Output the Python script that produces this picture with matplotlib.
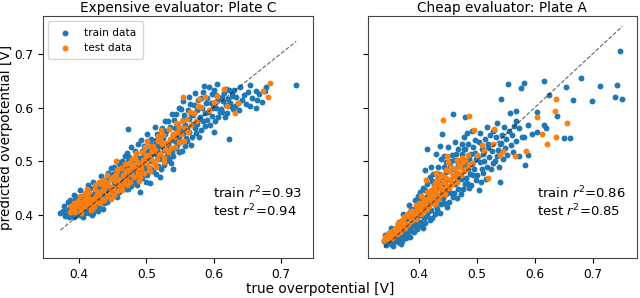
import numpy as np
import matplotlib
matplotlib.use("Agg")
import matplotlib.pyplot as plt

# true / predicted overpotentials (one row per 0.01 V strip)
plate_c_train_true = [
    0.372, 0.378, 0.376, 0.379,
    0.385, 0.381, 0.388, 0.383, 0.386, 0.389, 0.384, 0.387,
    0.393, 0.397, 0.390, 0.399, 0.395, 0.391, 0.398, 0.394, 0.396, 0.392,
    0.406, 0.401, 0.408, 0.403, 0.400, 0.409, 0.404, 0.407, 0.402, 0.405, 0.4085, 0.4015,
    0.419, 0.414, 0.412, 0.416, 0.418, 0.410, 0.415, 0.411, 0.417, 0.413, 0.4165, 0.4125,
    0.421, 0.428, 0.425, 0.420, 0.427, 0.423, 0.429, 0.422, 0.424, 0.426, 0.4275, 0.4205,
    0.435, 0.430, 0.437, 0.432, 0.439, 0.436, 0.431, 0.438, 0.433, 0.434, 0.4365, 0.4325,
    0.442, 0.446, 0.449, 0.444, 0.441, 0.447, 0.443, 0.440, 0.445, 0.448, 0.4435, 0.4475,
    0.457, 0.453, 0.451, 0.458, 0.454, 0.452, 0.456, 0.459, 0.450, 0.455, 0.4525, 0.4575,
    0.460, 0.469, 0.464, 0.465, 0.462, 0.468, 0.467, 0.463, 0.466, 0.461, 0.4645, 0.4685,
    0.473, 0.477, 0.470, 0.479, 0.475, 0.471, 0.478, 0.474, 0.476, 0.472, 0.4745, 0.4705, 0.472, 0.477,
    0.486, 0.481, 0.488, 0.483, 0.480, 0.489, 0.484, 0.487, 0.482, 0.485, 0.4835, 0.4875,
    0.499, 0.494, 0.492, 0.496, 0.498, 0.490, 0.495, 0.491, 0.497, 0.493, 0.4965, 0.4925, 0.491,
    0.501, 0.508, 0.505, 0.500, 0.507, 0.503, 0.509, 0.502, 0.504, 0.506, 0.5075, 0.5005, 0.505,
    0.515, 0.510, 0.517, 0.512, 0.519, 0.516, 0.511, 0.518, 0.513, 0.514, 0.5165, 0.5125,
    0.522, 0.526, 0.529, 0.524, 0.521, 0.527, 0.523, 0.520, 0.525, 0.528, 0.5235, 0.5275, 0.520,
    0.537, 0.533, 0.531, 0.538, 0.534, 0.532, 0.536, 0.539, 0.530, 0.535, 0.5325, 0.5375,
    0.540, 0.549, 0.544, 0.545, 0.542, 0.548, 0.547, 0.543, 0.546, 0.541, 0.5445, 0.5485, 0.540,
    0.553, 0.557, 0.550, 0.559, 0.555, 0.551, 0.558, 0.554, 0.556, 0.552, 0.5545,
    0.566, 0.561, 0.568, 0.563, 0.560, 0.569, 0.564, 0.567, 0.562, 0.565, 0.5635,
    0.579, 0.574, 0.572, 0.576, 0.578, 0.570, 0.575, 0.571, 0.577, 0.573,
    0.581, 0.588, 0.585, 0.580, 0.587, 0.583, 0.589, 0.582, 0.584, 0.586,
    0.595, 0.590, 0.597, 0.592, 0.599, 0.596, 0.591, 0.598, 0.594,
    0.602, 0.606, 0.609, 0.604, 0.601, 0.607, 0.603, 0.600, 0.605, 0.600,
    0.617, 0.613, 0.611, 0.618, 0.614, 0.612, 0.616, 0.619,
    0.620, 0.629, 0.624, 0.625, 0.622, 0.628, 0.627, 0.623, 0.623,
    0.630, 0.632, 0.634, 0.636, 0.638, 0.640, 0.642, 0.645, 0.648, 0.652, 0.655, 0.655,
    0.658, 0.663, 0.663, 0.665, 0.668, 0.672, 0.676, 0.678, 0.723,
]
plate_c_train_pred = [
    0.403, 0.417, 0.408, 0.399,
    0.397, 0.401, 0.405, 0.410, 0.414, 0.419, 0.424, 0.428,
    0.397, 0.401, 0.406, 0.410, 0.414, 0.419, 0.423, 0.428, 0.433, 0.438,
    0.397, 0.400, 0.404, 0.409, 0.413, 0.417, 0.421, 0.426, 0.430, 0.435, 0.440, 0.446,
    0.400, 0.404, 0.409, 0.414, 0.419, 0.424, 0.429, 0.433, 0.438, 0.444, 0.450, 0.456,
    0.403, 0.408, 0.413, 0.418, 0.423, 0.428, 0.433, 0.438, 0.443, 0.449, 0.455, 0.462,
    0.412, 0.417, 0.422, 0.427, 0.432, 0.438, 0.443, 0.448, 0.454, 0.459, 0.465, 0.472,
    0.425, 0.430, 0.435, 0.440, 0.446, 0.451, 0.456, 0.462, 0.467, 0.473, 0.479, 0.487,
    0.433, 0.439, 0.444, 0.450, 0.455, 0.461, 0.466, 0.472, 0.477, 0.483, 0.490, 0.498,
    0.443, 0.448, 0.454, 0.459, 0.465, 0.470, 0.476, 0.481, 0.487, 0.493, 0.500, 0.509,
    0.448, 0.454, 0.460, 0.466, 0.471, 0.477, 0.483, 0.489, 0.495, 0.501, 0.508, 0.516, 0.560, 0.527,
    0.455, 0.461, 0.467, 0.473, 0.479, 0.485, 0.491, 0.497, 0.503, 0.510, 0.519, 0.532,
    0.462, 0.468, 0.474, 0.480, 0.487, 0.493, 0.499, 0.506, 0.512, 0.519, 0.528, 0.540, 0.443,
    0.475, 0.481, 0.488, 0.494, 0.500, 0.507, 0.513, 0.520, 0.527, 0.534, 0.542, 0.551, 0.460,
    0.477, 0.484, 0.491, 0.498, 0.505, 0.512, 0.519, 0.526, 0.533, 0.540, 0.550, 0.563,
    0.486, 0.493, 0.500, 0.507, 0.514, 0.521, 0.528, 0.536, 0.543, 0.551, 0.562, 0.575, 0.470,
    0.497, 0.504, 0.511, 0.518, 0.525, 0.533, 0.540, 0.548, 0.556, 0.564, 0.574, 0.587,
    0.510, 0.517, 0.524, 0.531, 0.538, 0.546, 0.553, 0.561, 0.569, 0.577, 0.587, 0.599, 0.485,
    0.520, 0.528, 0.536, 0.544, 0.552, 0.560, 0.568, 0.577, 0.586, 0.597, 0.612,
    0.530, 0.538, 0.546, 0.554, 0.562, 0.570, 0.578, 0.587, 0.596, 0.607, 0.620,
    0.545, 0.553, 0.561, 0.569, 0.578, 0.586, 0.595, 0.604, 0.614, 0.627,
    0.558, 0.566, 0.574, 0.582, 0.590, 0.599, 0.608, 0.618, 0.628, 0.640,
    0.568, 0.576, 0.584, 0.592, 0.600, 0.608, 0.617, 0.626, 0.638,
    0.575, 0.583, 0.591, 0.599, 0.607, 0.615, 0.624, 0.633, 0.644, 0.555,
    0.583, 0.591, 0.598, 0.605, 0.612, 0.619, 0.627, 0.635,
    0.590, 0.597, 0.603, 0.609, 0.615, 0.621, 0.627, 0.633, 0.541,
    0.633, 0.602, 0.620, 0.609, 0.596, 0.639, 0.614, 0.624, 0.607, 0.628, 0.642, 0.602,
    0.617, 0.599, 0.631, 0.614, 0.625, 0.611, 0.630, 0.639, 0.642,
]
plate_c_test_true = [
    0.386, 0.389, 0.388,
    0.394, 0.391, 0.397, 0.393, 0.399,
    0.403, 0.407, 0.400, 0.405, 0.409, 0.401,
    0.416, 0.411, 0.418, 0.413, 0.410, 0.415,
    0.422, 0.427, 0.420, 0.425, 0.428, 0.423, 0.424,
    0.437, 0.432, 0.430, 0.435, 0.439, 0.433,
    0.441, 0.446, 0.449, 0.443, 0.440, 0.447,
    0.456, 0.451, 0.458, 0.453, 0.450, 0.455, 0.455,
    0.462, 0.467, 0.460, 0.465, 0.469, 0.463,
    0.475, 0.470, 0.477, 0.472, 0.479, 0.474,
    0.481, 0.488, 0.484, 0.480, 0.486, 0.483,
    0.497, 0.492, 0.490, 0.495, 0.499, 0.493,
    0.504, 0.500, 0.507, 0.502, 0.509, 0.505,
    0.511, 0.516, 0.519, 0.513, 0.510, 0.517,
    0.526, 0.521, 0.528, 0.523, 0.520, 0.525,
    0.532, 0.537, 0.530, 0.535, 0.539, 0.533,
    0.543, 0.548, 0.541, 0.546, 0.549, 0.544,
    0.556, 0.551, 0.558, 0.553, 0.555,
    0.562, 0.567, 0.560, 0.565,
    0.574, 0.571, 0.577, 0.578,
    0.582, 0.588, 0.593, 0.600, 0.605, 0.616, 0.620, 0.632, 0.637, 0.673, 0.681, 0.684,
    0.402, 0.408, 0.417, 0.412, 0.421, 0.429, 0.431, 0.436, 0.448, 0.442, 0.452, 0.457, 0.464,
    0.468, 0.471, 0.478, 0.489, 0.485, 0.491, 0.498, 0.506, 0.501, 0.514, 0.518, 0.527, 0.522,
]
plate_c_test_pred = [
    0.405, 0.411, 0.416,
    0.406, 0.412, 0.417, 0.422, 0.427,
    0.410, 0.415, 0.420, 0.425, 0.430, 0.436,
    0.416, 0.421, 0.426, 0.432, 0.437, 0.443,
    0.415, 0.424, 0.430, 0.436, 0.442, 0.448, 0.456,
    0.428, 0.434, 0.440, 0.446, 0.452, 0.458,
    0.436, 0.443, 0.449, 0.455, 0.461, 0.467,
    0.444, 0.451, 0.458, 0.464, 0.470, 0.477, 0.501,
    0.453, 0.460, 0.467, 0.474, 0.481, 0.488,
    0.462, 0.469, 0.476, 0.483, 0.490, 0.497,
    0.470, 0.477, 0.485, 0.492, 0.499, 0.507,
    0.479, 0.487, 0.494, 0.502, 0.509, 0.517,
    0.490, 0.497, 0.505, 0.512, 0.520, 0.528,
    0.497, 0.505, 0.513, 0.521, 0.529, 0.538,
    0.507, 0.515, 0.523, 0.532, 0.540, 0.549,
    0.517, 0.525, 0.534, 0.542, 0.551, 0.560,
    0.527, 0.536, 0.545, 0.554, 0.563, 0.572,
    0.538, 0.550, 0.562, 0.574, 0.619,
    0.555, 0.567, 0.579, 0.592,
    0.575, 0.590, 0.603, 0.616,
    0.601, 0.620, 0.596, 0.610, 0.622, 0.635, 0.602, 0.589, 0.608, 0.630, 0.620, 0.646,
    0.404, 0.441, 0.409, 0.449, 0.419, 0.461, 0.422, 0.465, 0.430, 0.474, 0.438, 0.484, 0.446,
    0.495, 0.455, 0.505, 0.463, 0.515, 0.471, 0.526, 0.482, 0.537, 0.489, 0.547, 0.498, 0.558,
]
plate_a_train_true = [
    0.343, 0.347, 0.340, 0.349, 0.345, 0.341, 0.348,
    0.356, 0.351, 0.358, 0.353, 0.350, 0.359, 0.354, 0.357, 0.352,
    0.369, 0.364, 0.362, 0.366, 0.368, 0.360, 0.365, 0.361, 0.367, 0.363, 0.3655,
    0.371, 0.378, 0.375, 0.370, 0.377, 0.373, 0.379, 0.372, 0.374, 0.376, 0.3725,
    0.385, 0.380, 0.387, 0.382, 0.389, 0.386, 0.381, 0.388, 0.383, 0.384, 0.3865, 0.3825,
    0.392, 0.396, 0.399, 0.394, 0.391, 0.397, 0.393, 0.390, 0.395, 0.398, 0.3935, 0.3975,
    0.407, 0.403, 0.401, 0.408, 0.404, 0.402, 0.406, 0.409, 0.400, 0.405, 0.4025, 0.4075,
    0.410, 0.419, 0.414, 0.415, 0.412, 0.418, 0.417, 0.413, 0.416, 0.411, 0.4145, 0.4185, 0.410, 0.413,
    0.423, 0.427, 0.420, 0.429, 0.425, 0.421, 0.428, 0.424, 0.426, 0.422, 0.4245, 0.4205,
    0.436, 0.431, 0.438, 0.433, 0.430, 0.439, 0.434, 0.437, 0.432, 0.435, 0.4335, 0.4375, 0.430, 0.436, 0.439,
    0.449, 0.444, 0.442, 0.446, 0.448, 0.440, 0.445, 0.441, 0.447, 0.443, 0.4465, 0.4425,
    0.451, 0.458, 0.455, 0.450, 0.457, 0.453, 0.459, 0.452, 0.454, 0.456, 0.4575, 0.4505, 0.459,
    0.465, 0.460, 0.467, 0.462, 0.469, 0.466, 0.461, 0.468, 0.463, 0.464, 0.4665, 0.4625,
    0.472, 0.476, 0.479, 0.474, 0.471, 0.477, 0.473, 0.470, 0.475, 0.478, 0.4735, 0.4775,
    0.487, 0.483, 0.481, 0.488, 0.484, 0.482, 0.486, 0.489, 0.480, 0.485, 0.4825, 0.480,
    0.490, 0.499, 0.494, 0.495, 0.492, 0.498, 0.497, 0.493, 0.496, 0.491,
    0.503, 0.507, 0.500, 0.509, 0.505, 0.501, 0.508, 0.504, 0.506,
    0.516, 0.511, 0.518, 0.513, 0.510, 0.519, 0.514, 0.517,
    0.524, 0.528, 0.521, 0.526, 0.520, 0.523, 0.527,
    0.538, 0.531, 0.534, 0.536, 0.539, 0.533, 0.530, 0.535,
    0.540, 0.541, 0.542, 0.543, 0.545, 0.546, 0.548, 0.550, 0.552, 0.554, 0.555, 0.557,
    0.558, 0.560, 0.562, 0.564, 0.567, 0.567, 0.568, 0.573, 0.573, 0.576, 0.577, 0.582,
    0.582, 0.583, 0.588, 0.588, 0.595, 0.604, 0.604, 0.615, 0.616, 0.620, 0.625, 0.639,
    0.650, 0.654, 0.660, 0.666, 0.679, 0.698, 0.713, 0.738, 0.742, 0.747, 0.751,
]
plate_a_train_pred = [
    0.344, 0.348, 0.351, 0.355, 0.358, 0.362, 0.366,
    0.343, 0.347, 0.351, 0.355, 0.359, 0.363, 0.367, 0.371, 0.375,
    0.346, 0.350, 0.354, 0.358, 0.362, 0.366, 0.370, 0.374, 0.378, 0.383, 0.388,
    0.352, 0.357, 0.361, 0.366, 0.371, 0.376, 0.380, 0.385, 0.390, 0.395, 0.402,
    0.360, 0.365, 0.370, 0.375, 0.380, 0.385, 0.390, 0.396, 0.401, 0.406, 0.412, 0.418,
    0.368, 0.374, 0.380, 0.386, 0.391, 0.397, 0.403, 0.409, 0.415, 0.421, 0.428, 0.436,
    0.375, 0.381, 0.388, 0.394, 0.400, 0.407, 0.413, 0.420, 0.427, 0.434, 0.442, 0.450,
    0.385, 0.391, 0.398, 0.405, 0.412, 0.419, 0.426, 0.433, 0.440, 0.447, 0.457, 0.470, 0.483, 0.522,
    0.395, 0.402, 0.409, 0.416, 0.424, 0.431, 0.439, 0.447, 0.455, 0.464, 0.476, 0.490,
    0.404, 0.412, 0.420, 0.428, 0.436, 0.444, 0.452, 0.460, 0.468, 0.477, 0.489, 0.505, 0.514, 0.529, 0.550,
    0.415, 0.423, 0.431, 0.439, 0.447, 0.455, 0.463, 0.471, 0.480, 0.489, 0.499, 0.510,
    0.425, 0.433, 0.441, 0.449, 0.457, 0.466, 0.474, 0.483, 0.492, 0.501, 0.512, 0.526, 0.587,
    0.432, 0.441, 0.449, 0.458, 0.467, 0.476, 0.485, 0.494, 0.503, 0.513, 0.523, 0.535,
    0.440, 0.449, 0.458, 0.467, 0.476, 0.485, 0.494, 0.503, 0.513, 0.523, 0.533, 0.545,
    0.450, 0.459, 0.468, 0.477, 0.486, 0.495, 0.504, 0.513, 0.522, 0.532, 0.552, 0.582,
    0.455, 0.465, 0.475, 0.485, 0.495, 0.505, 0.516, 0.527, 0.539, 0.556,
    0.447, 0.462, 0.474, 0.486, 0.498, 0.510, 0.522, 0.535, 0.552,
    0.467, 0.478, 0.490, 0.501, 0.513, 0.526, 0.541, 0.563,
    0.486, 0.497, 0.508, 0.519, 0.533, 0.548, 0.557,
    0.490, 0.500, 0.510, 0.521, 0.533, 0.546, 0.559, 0.571,
    0.461, 0.615, 0.534, 0.548, 0.505, 0.563, 0.525, 0.541, 0.512, 0.643, 0.557, 0.589,
    0.530, 0.548, 0.517, 0.566, 0.594, 0.574, 0.538, 0.561, 0.509, 0.636, 0.546, 0.646,
    0.545, 0.493, 0.568, 0.512, 0.550, 0.591, 0.555, 0.650, 0.568, 0.562, 0.624, 0.584,
    0.543, 0.638, 0.543, 0.614, 0.654, 0.612, 0.640, 0.619, 0.641, 0.706, 0.615,
]
plate_a_test_true = [
    0.340, 0.344, 0.342, 0.348, 0.346,
    0.353, 0.350, 0.357, 0.352, 0.355, 0.358,
    0.362, 0.367, 0.360, 0.365, 0.369, 0.363,
    0.376, 0.371, 0.378, 0.373, 0.370, 0.375,
    0.381, 0.386, 0.389, 0.383, 0.380, 0.387,
    0.395, 0.390, 0.397, 0.392, 0.399, 0.394,
    0.404, 0.408, 0.401, 0.406, 0.400, 0.409, 0.403,
    0.413, 0.418, 0.411, 0.416, 0.419, 0.414, 0.412,
    0.427, 0.422, 0.429, 0.424, 0.420, 0.426, 0.428,
    0.432, 0.436, 0.430, 0.438, 0.434, 0.431, 0.437, 0.430,
    0.445, 0.441, 0.448, 0.443, 0.447, 0.440, 0.446, 0.441, 0.449,
    0.451, 0.457, 0.454, 0.459, 0.452, 0.456, 0.450,
    0.466, 0.461, 0.468, 0.463, 0.469, 0.465,
    0.473, 0.478, 0.471, 0.476, 0.474,
    0.482, 0.486, 0.480, 0.484, 0.487,
    0.491, 0.495, 0.500, 0.508, 0.512, 0.520, 0.528, 0.529, 0.540, 0.545,
    0.566, 0.585, 0.604, 0.612, 0.621, 0.635, 0.637, 0.637, 0.656,
]
plate_a_test_pred = [
    0.353, 0.356, 0.359, 0.362, 0.365,
    0.358, 0.361, 0.364, 0.368, 0.371, 0.375,
    0.365, 0.369, 0.373, 0.377, 0.381, 0.385,
    0.375, 0.379, 0.383, 0.387, 0.391, 0.396,
    0.384, 0.389, 0.393, 0.398, 0.402, 0.407,
    0.393, 0.398, 0.403, 0.408, 0.413, 0.419,
    0.402, 0.407, 0.412, 0.418, 0.423, 0.429, 0.436,
    0.411, 0.417, 0.423, 0.429, 0.435, 0.442, 0.466,
    0.421, 0.427, 0.433, 0.440, 0.446, 0.453, 0.460,
    0.430, 0.437, 0.444, 0.451, 0.458, 0.465, 0.472, 0.478,
    0.440, 0.447, 0.454, 0.461, 0.468, 0.475, 0.483, 0.576, 0.509,
    0.450, 0.458, 0.466, 0.474, 0.482, 0.490, 0.498,
    0.462, 0.470, 0.478, 0.486, 0.494, 0.503,
    0.474, 0.482, 0.490, 0.498, 0.507,
    0.485, 0.494, 0.503, 0.512, 0.584,
    0.496, 0.558, 0.512, 0.530, 0.520, 0.468, 0.533, 0.560, 0.512, 0.520,
    0.509, 0.520, 0.582, 0.551, 0.532, 0.593, 0.616, 0.545, 0.571,
]

titles = ["Expensive evaluator: Plate C", "Cheap evaluator: Plate A"]
r2_train = [0.93, 0.86]
r2_test = [0.94, 0.85]
xlims = [(0.346, 0.748), (0.312, 0.776)]

plt.rcParams["font.size"] = 9.5
plt.rcParams["xtick.labelsize"] = 8.7
plt.rcParams["ytick.labelsize"] = 8.7
fig = plt.figure(figsize=(6.4, 2.98), dpi=100)
ax1 = fig.add_axes([0.067, 0.134, 0.422, 0.812])
ax2 = fig.add_axes([0.575, 0.134, 0.420, 0.812], sharey=ax1)

panels = [
    (ax1, plate_c_train_true, plate_c_train_pred, plate_c_test_true, plate_c_test_pred),
    (ax2, plate_a_train_true, plate_a_train_pred, plate_a_test_true, plate_a_test_pred),
]
for i, (ax, xtr, ytr, xte, yte) in enumerate(panels):
    assert len(xtr) == len(ytr) and len(xte) == len(yte)
    ax.scatter(xtr, ytr, s=18, color="#1f77b4", linewidths=0, label="train data")
    ax.scatter(xte, yte, s=18, color="#ff7f0e", linewidths=0, label="test data")
    lo = min(min(xtr), min(xte))
    hi = max(max(xtr), max(xte))
    ax.plot([lo, hi], [lo, hi], "--", color="k", alpha=0.6, lw=0.8, zorder=5)
    ax.set_title(titles[i], fontsize=9.8, pad=3)
    ax.set_xlim(*xlims[i])
    ax.set_xticks([0.4, 0.5, 0.6, 0.7])
    ax.text(0.63, 0.23, "train $r^2$=%.2f\ntest $r^2$=%.2f" % (r2_train[i], r2_test[i]),
            transform=ax.transAxes, fontsize=9.5, va="center", linespacing=1.1)
    for sp in ax.spines.values():
        sp.set_color("#444444")

ax1.set_ylim(0.32, 0.77)
ax1.set_yticks([0.4, 0.5, 0.6, 0.7])
ax2.tick_params(labelleft=False)
ax1.set_ylabel("predicted overpotential [V]", fontsize=9.8)
ax1.yaxis.set_label_coords(-0.11, 0.5)
ax1.legend(loc="upper left", fontsize=7.6, handletextpad=0.8, borderpad=0.6)
fig.text(0.5, 0.008, "true overpotential [V]", ha="center", va="bottom", fontsize=9.8)

fig.savefig("out.png", dpi=100)
